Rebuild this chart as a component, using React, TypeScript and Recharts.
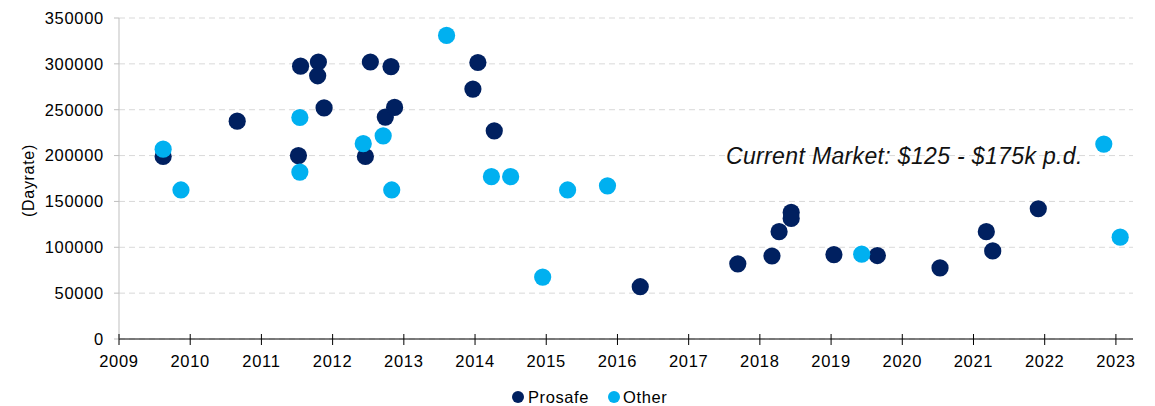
import { ScatterChart, Scatter, XAxis, YAxis, CartesianGrid } from "recharts";

const prosafeYears = [
  2009.62, 2010.66, 2011.55, 2011.8, 2011.79, 2011.88, 2011.52, 2012.53, 2012.46,
  2012.82, 2012.74, 2012.87, 2014.04, 2013.97, 2014.27, 2016.32, 2017.69, 2018.17,
  2018.27, 2018.44, 2018.44, 2019.04, 2019.65, 2020.53, 2021.18, 2021.27, 2021.91,
];
const prosafeRates = [
  199000, 237500, 297500, 302000, 287000, 252000, 200000, 302000, 199000,
  297000, 242000, 252500, 301500, 272500, 227000, 57000, 82000, 90500,
  117000, 138000, 131500, 92000, 91000, 77500, 117000, 96000, 142000,
];

const otherYears = [
  2009.62, 2009.87, 2011.54, 2011.54, 2012.43, 2012.71, 2012.83, 2013.6,
  2014.23, 2014.5, 2014.95, 2015.3, 2015.86, 2019.43, 2022.83, 2023.06,
];
const otherRates = [
  207000, 162500, 241500, 182000, 213000, 221500, 162500, 331000,
  177000, 177000, 67500, 162500, 167000, 92500, 212500, 111000,
];

const yearTicks = [2009, 2010, 2011, 2012, 2013, 2014, 2015, 2016, 2017, 2018, 2019, 2020, 2021, 2022, 2023];
const rateTicks = [0, 50000, 100000, 150000, 200000, 250000, 300000, 350000];

const NAVY = "#002060";
const LIGHT = "#00b0f0";
const FONT = "'Liberation Sans', Arial, sans-serif";

const prosafeData = prosafeYears.map((x, i) => ({ x, y: prosafeRates[i] }));
const otherData = otherYears.map((x, i) => ({ x, y: otherRates[i] }));

const dot = (color: string) => (props: any) =>
  <circle cx={props.cx} cy={props.cy} r={8.6} fill={color} />;

const YearTick = (props: any) => {
  const { x, y, payload } = props;
  const axisY = y - 16;
  return (
    <g>
      <line x1={x} x2={x} y1={axisY - 5} y2={axisY + 6} stroke="#000" strokeWidth={1} />
      <text x={x} y={y} dy="0.71em" textAnchor="middle" fill="#000" fontSize={16.5}
        letterSpacing={0.7} fontFamily={FONT}>
        {payload.value}
      </text>
    </g>
  );
};

export default function App() {
  return (
    <div style={{ position: "absolute", left: 0, top: 0, width: 1155, height: 406, background: "#fff" }}>
      <ScatterChart width={1155} height={406} margin={{ top: 18, right: 22, bottom: 37, left: 0 }}>
        <CartesianGrid vertical={false} stroke="#d9d9d9" strokeDasharray="6 4" />
        <XAxis type="number" dataKey="x" domain={[2009, 2023.24]} ticks={yearTicks}
          height={30} tickSize={6} tickMargin={10} tickLine={false}
          axisLine={{ stroke: "#000" }} tick={<YearTick />} />
        <YAxis type="number" dataKey="y" domain={[0, 350000]} ticks={rateTicks} width={119}
          tickSize={5} tickMargin={10} tickLine={{ stroke: "#bfbfbf" }}
          axisLine={{ stroke: "#bfbfbf" }}
          tick={{ fill: "#000", fontSize: 16.5, fontFamily: FONT, letterSpacing: 0.7 }}
          label={{ value: "(Dayrate)", angle: -90, position: "insideLeft", dx: 23, dy: 2,
            style: { fill: "#000", fontSize: 16, fontFamily: FONT, letterSpacing: 0.7, textAnchor: "middle" } }} />
        <Scatter name="Prosafe" data={prosafeData} fill={NAVY} shape={dot(NAVY)} isAnimationActive={false} />
        <Scatter name="Other" data={otherData} fill={LIGHT} shape={dot(LIGHT)} isAnimationActive={false} />
      </ScatterChart>
      <div style={{ position: "absolute", left: 726, top: 145, fontFamily: FONT, fontSize: 23,
        fontStyle: "italic", lineHeight: "23px", letterSpacing: 0.35, color: "#111", whiteSpace: "nowrap" }}>
        Current Market: $125 - $175k p.d.
      </div>
      <div style={{ position: "absolute", left: 512, top: 387, display: "flex", alignItems: "center",
        fontFamily: FONT, fontSize: 16.5, letterSpacing: 0.6, color: "#000", lineHeight: "20px" }}>
        <span style={{ width: 12, height: 12, borderRadius: 6, background: NAVY, marginRight: 4 }} />
        <span>Prosafe</span>
        <span style={{ width: 12, height: 12, borderRadius: 6, background: LIGHT, marginLeft: 19, marginRight: 3 }} />
        <span>Other</span>
      </div>
    </div>
  );
}
